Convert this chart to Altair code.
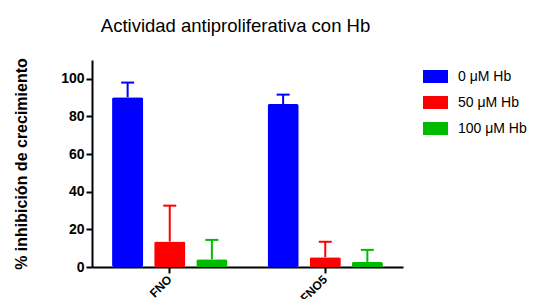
import altair as alt
import pandas as pd

groups = ["FNO", "FNO5"]
series = ["0 μM Hb", "50 μM Hb", "100 μM Hb"]
values = {
    "0 μM Hb": [90.2, 86.6],
    "50 μM Hb": [13.5, 5.2],
    "100 μM Hb": [4.1, 2.7],
}
errors = {
    "0 μM Hb": [7.8, 5.0],
    "50 μM Hb": [19.1, 8.2],
    "100 μM Hb": [10.3, 6.4],
}
colors = ["#0000FF", "#FF0000", "#00BB00"]

rows = []
for s in series:
    for i, g in enumerate(groups):
        v = values[s][i]
        e = errors[s][i]
        rows.append({"grupo": g, "serie": s, "valor": v, "top": v + e})
df = pd.DataFrame(rows)

FONT = "Liberation Sans"

x_enc = alt.X("grupo:N", sort=groups, title=None,
              scale=alt.Scale(paddingInner=0, paddingOuter=0),
              axis=alt.Axis(labelAngle=-45, labelAlign="right", labelBaseline="middle",
                            labelFontWeight="bold", labelFontSize=12, labelPadding=4,
                            tickSize=6, labelFont=FONT, labelColor="black"))
xo_enc = alt.XOffset("serie:N", sort=series,
                     scale=alt.Scale(paddingInner=0.26, paddingOuter=0.476))
color_enc = alt.Color("serie:N", sort=series,
                      scale=alt.Scale(domain=series, range=colors),
                      legend=alt.Legend(title=None, orient="none", legendX=331, legendY=4,
                                        symbolType="M-1,-0.52H1V0.52H-1Z", symbolSize=625,
                                        symbolStrokeWidth=0, symbolOpacity=1,
                                        labelFontSize=14, labelFont=FONT, labelColor="black",
                                        labelOffset=10, rowPadding=6))

base = alt.Chart(df)

bars = base.mark_bar(cornerRadius=2).encode(
    x=x_enc,
    xOffset=xo_enc,
    y=alt.Y("valor:Q", title="% inhibición de crecimiento",
            scale=alt.Scale(domain=[0, 110], nice=False),
            axis=alt.Axis(values=[0, 20, 40, 60, 80, 100], grid=False, tickSize=6,
                          labelFontWeight="bold", labelFontSize=14, labelFont=FONT,
                          labelColor="black", labelPadding=2,
                          titleFont=FONT, titleFontSize=16, titleFontWeight="bold",
                          titleColor="black", titlePadding=31)),
    color=color_enc,
)

rules = base.mark_rule(strokeWidth=2).encode(
    x=alt.X("grupo:N", sort=groups),
    xOffset=alt.XOffset("serie:N", sort=series),
    y="valor:Q",
    y2="top:Q",
    color=alt.Color("serie:N", sort=series, legend=None),
)

caps = base.mark_tick(size=13, thickness=2, opacity=1).encode(
    x=alt.X("grupo:N", sort=groups),
    xOffset=alt.XOffset("serie:N", sort=series),
    y="top:Q",
    color=alt.Color("serie:N", sort=series, legend=None),
)

chart = alt.layer(bars, rules, caps).properties(
    width=311,
    height=207,
    autosize=alt.AutoSizeParams(type="none"),
    padding={"left": 84, "top": 52, "right": 129, "bottom": 32},
    title=alt.TitleParams("Actividad antiproliferativa con Hb", anchor="middle",
                          font=FONT, fontSize=18.5, fontWeight="normal", color="black",
                          dx=-12, offset=22),
).configure_view(stroke=None).configure_axis(
    domainColor="black", domainWidth=2, tickColor="black", tickWidth=2,
)

chart.save("out.html", embed_options={"renderer": "svg", "actions": False})
